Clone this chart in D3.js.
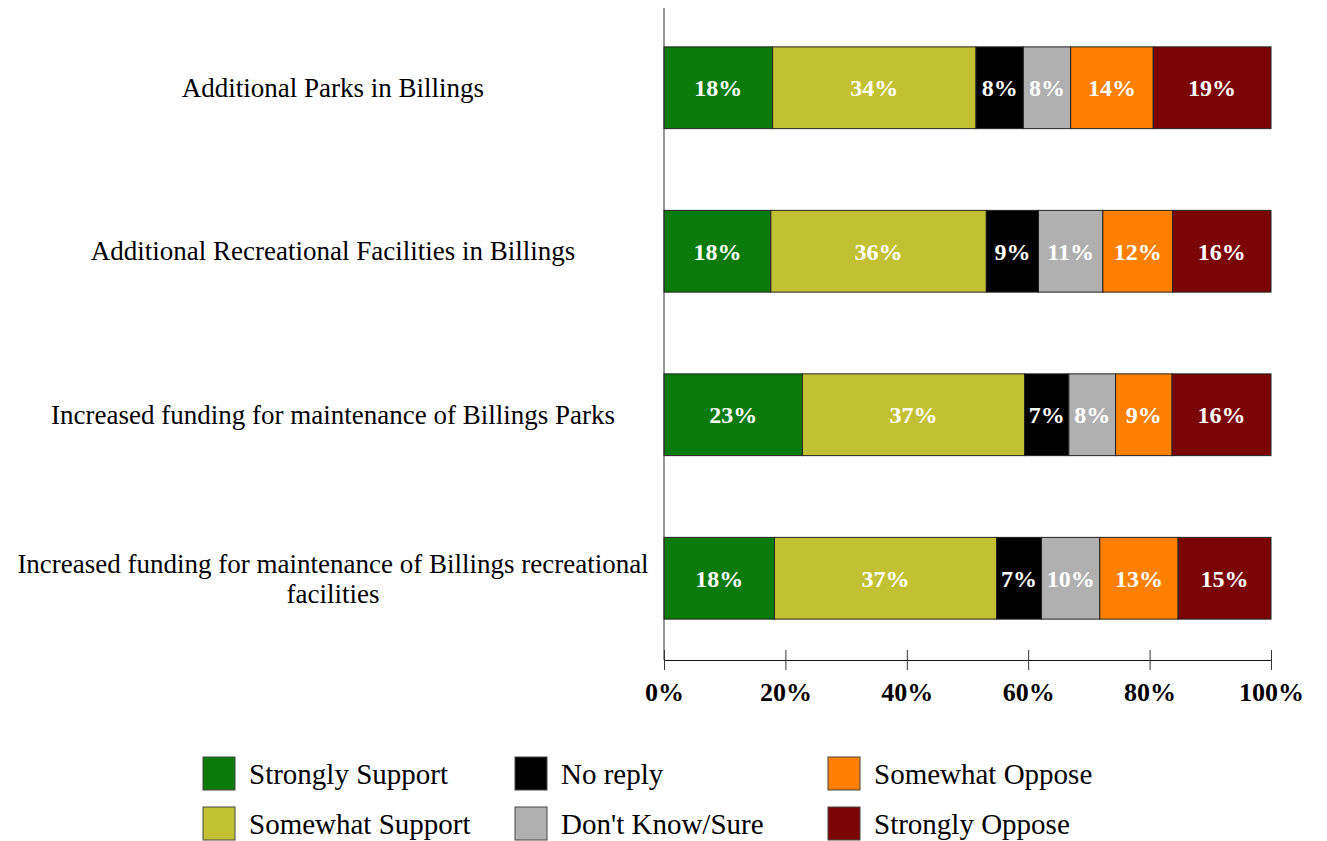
<!DOCTYPE html>
<html><head><meta charset="utf-8">
<script src="https://cdn.jsdelivr.net/npm/d3@7"></script>
<style>body{margin:0;background:#fff;} svg{display:block;}</style>
</head><body>
<svg id="chart" width="1327" height="841"></svg>
<script>
const categories = [
  "Additional Parks in Billings",
  "Additional Recreational Facilities in Billings",
  "Increased funding for maintenance of Billings Parks",
  "Increased funding for maintenance of Billings recreational facilities"
];
const seriesNames = ["Strongly Support","Somewhat Support","No reply","Don't Know/Sure","Somewhat Oppose","Strongly Oppose"];
const seriesColors = ["#0a7b0a","#c2c134","#000000","#b0b0b0","#ff8000","#7b0404"];
const stronglySupport = [17.9, 17.6, 22.8, 18.2];
const somewhatSupport = [33.5, 35.5, 36.6, 36.6];
const noReply         = [7.8, 8.6, 7.3, 7.4];
const dontKnow        = [7.8, 10.6, 7.7, 9.6];
const somewhatOppose  = [13.6, 11.5, 9.3, 12.9];
const stronglyOppose  = [19.4, 16.2, 16.3, 15.3];
const xTicks = [0, 20, 40, 60, 80, 100];

const seriesValues = [stronglySupport, somewhatSupport, noReply, dontKnow, somewhatOppose, stronglyOppose];
const rows = categories.map((c, i) => {
  const r = {cat: c};
  seriesNames.forEach((s, j) => r[s] = seriesValues[j][i]);
  return r;
});

const svg = d3.select("#chart");
const font = "'Liberation Serif', 'Times New Roman', serif";
const x = d3.scaleLinear().domain([0, 100]).range([664, 1271]);
const y = d3.scaleBand().domain(categories).range([6, 660]).paddingInner(0.5).paddingOuter(0.25);

const stack = d3.stack().keys(seriesNames)(rows);

const g = svg.append("g");
stack.forEach((layer, j) => {
  g.selectAll(null).data(layer).enter().append("rect")
    .attr("x", d => x(d[0]))
    .attr("y", d => y(d.data.cat))
    .attr("width", d => x(d[1]) - x(d[0]))
    .attr("height", y.bandwidth())
    .attr("fill", seriesColors[j])
    .attr("stroke", "#222")
    .attr("stroke-width", 1);
  g.selectAll(null).data(layer).enter().append("text")
    .attr("x", d => (x(d[0]) + x(d[1])) / 2)
    .attr("y", d => y(d.data.cat) + y.bandwidth() / 2)
    .attr("dy", "0.36em")
    .attr("text-anchor", "middle")
    .attr("fill", "#fff")
    .attr("font-family", font)
    .attr("font-weight", "bold")
    .attr("font-size", 24)
    .text(d => Math.round(d[1] - d[0]) + "%");
});

// vertical axis line
svg.append("line").attr("x1", x(0)).attr("x2", x(0)).attr("y1", 8).attr("y2", 660)
  .attr("stroke", "#333").attr("stroke-width", 1);

// x axis
const xAxis = svg.append("g").attr("transform", "translate(0,660)")
  .call(d3.axisBottom(x).tickValues(xTicks).tickSize(0).tickFormat(d => d + "%"));
xAxis.select(".domain").attr("stroke", "#111");
xAxis.selectAll(".tick").append("line").attr("y1", -10).attr("y2", 10).attr("stroke", "#333");
xAxis.selectAll("text").attr("font-family", font).attr("font-weight", "bold")
  .attr("font-size", 26).attr("fill", "#000").attr("y", 0).attr("dy", "1.58em");

// category labels
const labelX = 333;
categories.forEach(c => {
  const cy = y(c) + y.bandwidth() / 2;
  const t = svg.append("text").attr("text-anchor", "middle").attr("font-family", font)
    .attr("font-size", 27).attr("fill", "#000");
  if (c.length > 60) {
    const words = c.split(" ");
    const line1 = words.slice(0, -1).join(" "), line2 = words[words.length - 1];
    t.append("tspan").attr("x", labelX).attr("y", cy - 5).text(line1);
    t.append("tspan").attr("x", labelX).attr("y", cy + 25).text(line2);
  } else {
    t.attr("x", labelX).attr("y", cy + 9).text(c);
  }
});

// legend
const legCols = [203, 515, 828];
const legRows = [757, 807];
seriesNames.forEach((s, j) => {
  const col = Math.floor(j / 2), row = j % 2;
  const lg = svg.append("g").attr("transform", `translate(${legCols[col]},${legRows[row]})`);
  lg.append("rect").attr("width", 32).attr("height", 33).attr("fill", seriesColors[j]).attr("stroke", "#444");
  lg.append("text").attr("x", 46).attr("y", 27).attr("font-family", font).attr("font-size", 29)
    .attr("fill", "#000").text(s);
});
</script>
</body></html>
